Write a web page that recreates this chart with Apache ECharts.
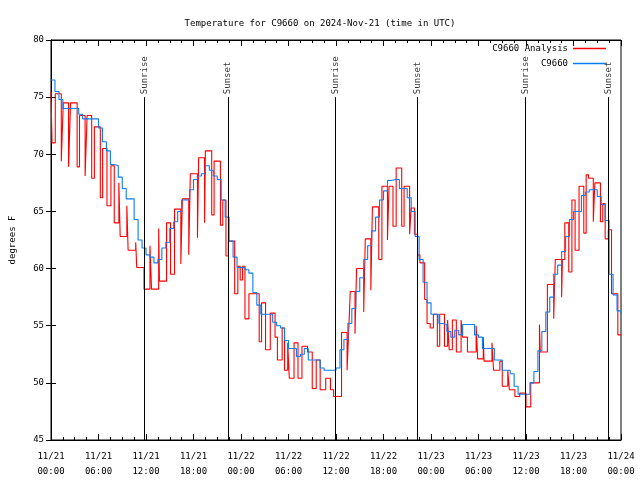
<!DOCTYPE html>
<html>
<head>
<meta charset="utf-8">
<script src="https://cdn.jsdelivr.net/npm/echarts@6/dist/echarts.min.js"></script>
<style>html,body{margin:0;padding:0;background:#fff;}#c{width:640px;height:480px;}</style>
</head>
<body>
<div id="c"></div>
<script>
// Observed: half-hour samples starting 11/21 00:00 UTC (hours since start = index * 0.5)
const observedStepHours = 0.5;
const observed = [
76.5,75.5,74.8,74.0,74.0,74.0,74.0,73.5,73.1,73.1,
73.1,73.1,72.3,71.1,70.3,69.1,69.0,68.0,67.0,66.1,
66.1,64.3,62.5,61.8,61.2,61.0,60.5,60.8,61.8,62.3,
63.5,64.1,65.0,66.0,66.0,66.9,67.8,68.1,68.3,69.0,
68.6,68.1,67.8,66.0,64.5,62.4,61.0,60.1,60.1,59.9,
59.6,57.9,56.8,56.0,56.0,56.0,55.3,55.0,54.8,53.7,
53.0,53.0,52.3,52.5,53.0,52.0,52.0,52.0,51.3,51.1,
51.1,51.1,51.3,52.9,53.8,55.2,56.5,58.0,59.2,60.8,
62.0,63.3,64.5,66.0,66.8,67.7,67.8,67.8,67.0,67.0,
66.2,65.0,62.8,60.8,58.8,57.0,56.0,56.0,55.2,55.1,
54.5,54.0,54.6,54.2,55.1,55.1,55.1,54.2,54.0,53.0,
53.0,53.0,52.0,52.0,51.1,51.1,50.8,49.7,49.0,49.0,
49.0,50.0,51.0,52.8,54.5,56.2,57.5,59.5,60.3,61.5,
62.8,64.3,65.0,65.0,66.4,66.7,66.9,66.9,66.3,65.6,
64.2,59.5,57.7,56.3,56.0
];
// Analysis: hours (since 11/21 00:00 UTC) where the stepped value changes, and the value from then on
const analysisHours = [
0,0.13,0.54,1.30,1.55,2.22,2.47,3.30,3.60,4.31,4.56,5.14,5.48,6.23,6.52,7.07,7.57,7.99,8.57,8.74,
9.58,9.74,10.70,10.83,11.75,12.50,12.70,13.60,13.70,14.60,15.10,15.60,16.40,16.60,17.40,17.60,18.50,18.65,19.40,19.50,
20.30,20.60,21.40,21.70,22.10,22.40,23.20,23.60,23.90,24.20,24.50,25.00,26.30,26.60,27.10,27.70,28.30,28.60,29.20,29.50,
29.90,30.10,30.70,31.20,31.70,32.40,33.00,33.50,34.00,34.70,35.30,35.70,36.70,37.40,37.60,37.80,38.40,38.60,39.50,39.70,
40.40,40.60,41.40,41.80,42.50,42.70,43.20,43.60,44.30,44.60,45.30,45.50,45.90,46.30,46.60,47.20,47.50,47.90,48.30,48.80,
49.10,49.70,50.10,50.30,50.70,51.20,51.80,52.00,52.60,53.70,53.90,54.60,54.70,55.70,55.90,56.70,57.00,57.70,57.90,58.60,
59.20,60.00,60.60,61.70,61.80,62.70,63.50,63.70,64.50,64.60,64.90,65.40,65.80,66.20,66.70,67.30,67.60,67.90,68.50,68.70,
69.40,69.70,70.00,70.40,70.80,71.60,72.00
];
const analysisTemps = [
75.5,71.0,75.3,69.4,74.5,68.9,74.5,68.9,73.4,68.1,73.4,67.9,72.4,66.2,70.5,65.5,69.0,64.0,67.5,62.8,
65.5,61.6,62.3,60.1,58.2,62.0,58.2,63.5,58.9,64.0,59.5,65.2,60.4,66.1,61.2,68.3,62.7,69.7,64.0,70.3,
64.7,69.4,63.8,66.0,61.1,62.4,57.8,60.2,59.0,60.2,55.6,57.8,53.6,57.0,52.9,56.1,54.0,52.0,54.8,51.1,
53.5,50.4,53.5,50.4,53.2,52.7,49.5,52.0,49.4,50.4,49.4,48.8,54.4,51.1,54.4,58.0,54.3,60.0,56.2,62.6,
58.1,65.4,60.8,67.2,62.5,67.2,63.7,68.8,63.7,67.2,63.0,65.3,63.0,61.2,60.5,57.3,55.2,54.8,56.0,53.2,
56.0,53.2,55.5,52.9,55.5,52.7,55.5,54.0,52.7,55.0,52.1,54.0,51.9,53.5,51.1,51.9,49.7,51.1,49.4,48.8,
49.1,47.9,50.0,55.1,52.7,58.6,55.6,60.8,57.5,60.8,64.0,59.7,66.0,61.6,67.2,63.1,68.2,67.9,64.1,67.5,
64.1,65.7,62.6,63.4,57.8,54.2,54.2
];
const xTickLabels = ['11/21\n00:00','11/21\n06:00','11/21\n12:00','11/21\n18:00',
  '11/22\n00:00','11/22\n06:00','11/22\n12:00','11/22\n18:00',
  '11/23\n00:00','11/23\n06:00','11/23\n12:00','11/23\n18:00','11/24\n00:00'];
const sunHours = [11.83, 22.33, 35.92, 46.29, 59.96, 70.40];
const sunNames = ['Sunrise','Sunset','Sunrise','Sunset','Sunrise','Sunset'];
const sunLineBottom = 45, sunLineTop = 75;

const FONT = 'DejaVu Sans Mono';
const FS = 9;
const RED = '#ff0000', BLUE = '#0a7df0';
const observedPairs = observed.map((v, i) => [i * observedStepHours, v]);
const analysisPairs = analysisHours.map((h, i) => [h, analysisTemps[i]]);

const chart = echarts.init(document.getElementById('c'), null, {renderer: 'canvas'});
const xCommon = {
  type: 'value', min: 0, max: 72, interval: 6,
  axisLine: {show: true, lineStyle: {color: '#000', width: 1}},
  axisTick: {show: true, inside: true, length: 6, lineStyle: {color: '#000'}},
  minorTick: {show: true, splitNumber: 4, length: 3, lineStyle: {color: '#000'}},
  splitLine: {show: false}
};
const yCommon = {
  type: 'value', min: 45, max: 80, interval: 5,
  axisLine: {show: true, lineStyle: {color: '#000', width: 1}},
  axisTick: {show: true, inside: true, length: 5, lineStyle: {color: '#000'}},
  splitLine: {show: false}
};
chart.setOption({
  animation: false,
  backgroundColor: '#fff',
  textStyle: {fontFamily: FONT, color: '#000'},
  title: {
    text: 'Temperature for C9660 on 2024-Nov-21 (time in UTC)',
    left: 'center', top: 14,
    textStyle: {fontFamily: FONT, fontSize: FS, fontWeight: 'normal', color: '#000'}
  },
  legend: {
    orient: 'vertical', right: 29, top: 38, align: 'right',
    itemWidth: 33, itemHeight: 1.3, itemGap: 4,
    data: [
      {name: 'C9660 Analysis', icon: 'rect', itemStyle: {color: RED, borderWidth: 0}},
      {name: 'C9660', icon: 'rect', itemStyle: {color: BLUE, borderWidth: 0}}
    ],
    textStyle: {fontFamily: FONT, fontSize: FS, color: '#000', lineHeight: 11}
  },
  grid: {left: 47, right: 19, top: 40, bottom: 40, show: true, borderColor: '#000', borderWidth: 1, backgroundColor: '#fff'},
  xAxis: [
    Object.assign({}, xCommon, {
      position: 'bottom',
      axisLabel: {show: true, margin: 9, fontFamily: FONT, fontSize: FS, color: '#000', lineHeight: 15,
        formatter: v => xTickLabels[Math.round(v / 6)]}
    }),
    Object.assign({}, xCommon, {position: 'top', axisLabel: {show: false}})
  ],
  yAxis: [
    Object.assign({}, yCommon, {
      position: 'left',
      name: 'degrees F', nameLocation: 'middle', nameGap: 34, nameRotate: 90,
      nameTextStyle: {fontFamily: FONT, fontSize: FS, color: '#000'},
      axisLabel: {show: true, margin: 7, fontFamily: FONT, fontSize: FS, color: '#000'}
    }),
    Object.assign({}, yCommon, {position: 'right', axisLabel: {show: false}})
  ],
  series: [
    {
      name: 'sun', type: 'scatter', symbolSize: 0, silent: true,
      data: sunHours.map((t, i) => ({value: [t, sunLineTop], name: sunNames[i]})),
      label: {show: true, position: 'top', distance: 3, rotate: 90, align: 'left', verticalAlign: 'middle',
        formatter: p => p.name, fontFamily: FONT, fontSize: FS, color: '#000'},
      markLine: {
        silent: true, symbol: 'none', animation: false,
        label: {show: false},
        lineStyle: {color: '#000', width: 1, type: 'solid'},
        data: sunHours.map(t => [{coord: [t, sunLineBottom]}, {coord: [t, sunLineTop]}])
      }
    },
    {
      name: 'C9660 Analysis', type: 'line', step: 'end', symbol: 'none', showSymbol: false,
      data: analysisPairs,
      color: RED,
      itemStyle: {color: RED},
      lineStyle: {color: RED, width: 1.1}
    },
    {
      name: 'C9660', type: 'line', step: 'end', symbol: 'none', showSymbol: false,
      data: observedPairs,
      color: BLUE,
      itemStyle: {color: BLUE},
      lineStyle: {color: BLUE, width: 1.1}
    }
  ]
});
</script>
</body>
</html>
